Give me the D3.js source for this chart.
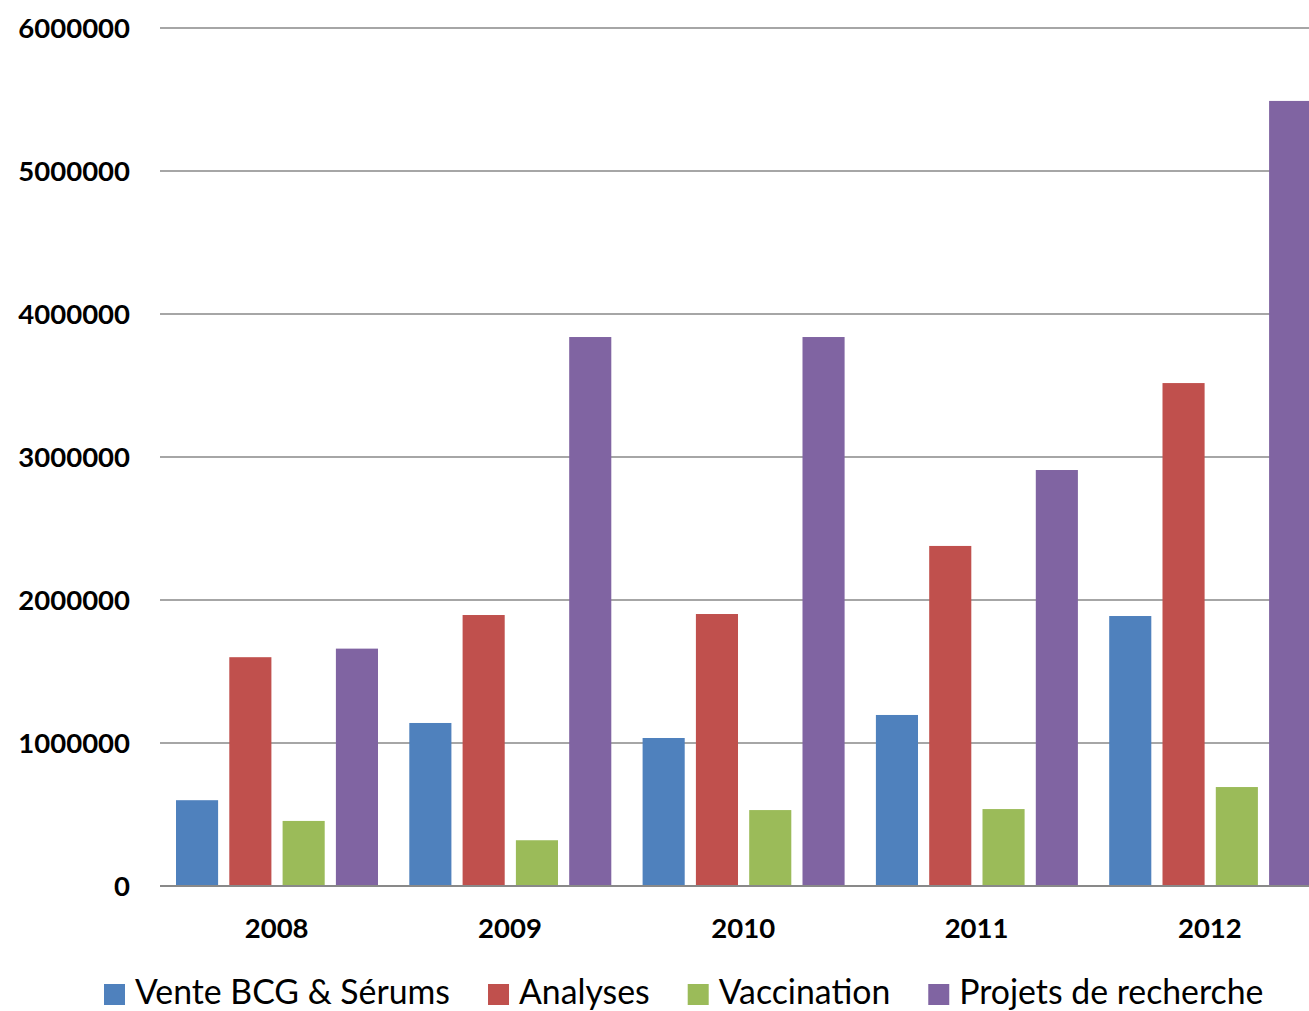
<!DOCTYPE html>
<html><head><meta charset="utf-8">
<script src="https://cdn.jsdelivr.net/npm/d3@7"></script>
<style>body{margin:0;background:#fff}svg{display:block}</style>
</head><body>
<script>
const years = ["2008","2009","2010","2011","2012"];
const seriesNames = ["Vente BCG & Sérums","Analyses","Vaccination","Projets de recherche"];
const vente = [600000, 1140000, 1035000, 1196000, 1888000];
const analyses = [1600000, 1895000, 1902000, 2378000, 3517000];
const vaccination = [455000, 320000, 531000, 538000, 692000];
const projets = [1660000, 3839000, 3839000, 2909000, 5490000];
const yTicks = [0,1000000,2000000,3000000,4000000,5000000,6000000];
const colors = ["#4F81BD","#C0504D","#9BBB59","#8064A2"];

const seriesValues = [vente, analyses, vaccination, projets];
const W = 1309, H = 1011;
const svg = d3.select("body").append("svg").attr("width", W).attr("height", H);
const font = "Lato, 'Open Sans', sans-serif";

const y = d3.scaleLinear().domain([0, 6000000]).range([886, 28]);
const x = d3.scaleBand().domain(years).range([160, 160 + 5*233.3]);
const xi = d3.scaleBand().domain(seriesNames).range([16, 218]).paddingInner(0.21).paddingOuter(0);

// gridlines
svg.append("g").selectAll("line").data(yTicks.filter(d => d > 0)).join("line")
  .attr("x1", 160).attr("x2", W)
  .attr("y1", d => y(d)).attr("y2", d => y(d))
  .attr("stroke", "#898989").attr("stroke-width", 1.6);

// bars
const groups = svg.append("g").selectAll("g").data(years).join("g")
  .attr("transform", d => `translate(${x(d)},0)`);
groups.selectAll("rect").data((yr, i) => seriesNames.map((s, j) => ({s, j, v: seriesValues[j][i]})))
  .join("rect")
  .attr("x", d => xi(d.s)).attr("width", xi.bandwidth())
  .attr("y", d => y(d.v)).attr("height", d => y(0) - y(d.v))
  .attr("fill", d => colors[d.j]);

// baseline
svg.append("line").attr("x1", 160).attr("x2", W).attr("y1", y(0)).attr("y2", y(0))
  .attr("stroke", "#898989").attr("stroke-width", 2);

// y axis labels
svg.append("g").selectAll("text").data(yTicks).join("text")
  .attr("x", 130).attr("y", d => y(d)).attr("dy", "0.36em")
  .attr("text-anchor", "end").attr("font-family", font).attr("font-weight", "bold")
  .attr("font-size", 27.5).attr("fill", "#000").text(d => d);

// x labels
svg.append("g").selectAll("text").data(years).join("text")
  .attr("x", d => x(d) + x.bandwidth()/2).attr("y", 938)
  .attr("text-anchor", "middle").attr("font-family", font).attr("font-weight", "bold")
  .attr("font-size", 27.5).attr("fill", "#000").text(d => d);

// legend
const leg = svg.append("g");
let lx = 104;
const legFont = 33.8;
seriesNames.forEach((s, j) => {
  leg.append("rect").attr("x", lx).attr("y", 984).attr("width", 21).attr("height", 21).attr("fill", colors[j]);
  const t = leg.append("text").attr("x", lx + 31).attr("y", 1004)
    .attr("font-family", font).attr("font-size", legFont).attr("fill", "#000").text(s);
  const w = t.node().getComputedTextLength();
  lx = lx + 31 + w + 38;
});
</script>
</body></html>
